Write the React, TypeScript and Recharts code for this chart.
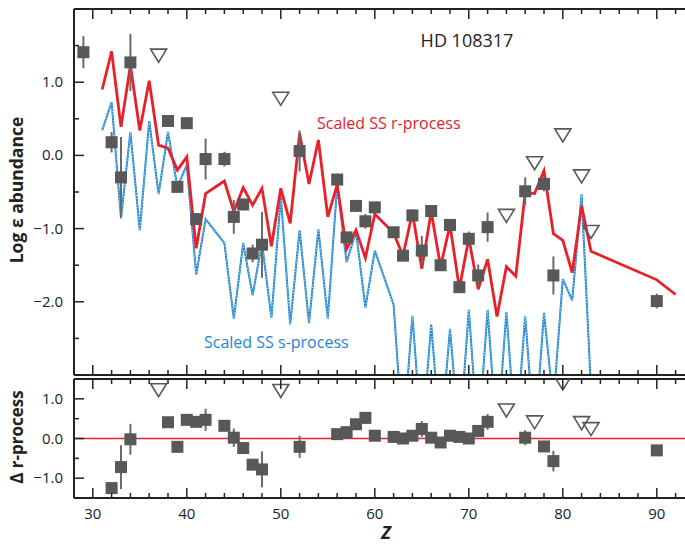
import {
  ComposedChart,
  ErrorBar,
  Line,
  ReferenceLine,
  Scatter,
  XAxis,
  YAxis,
} from "recharts";

const FONT = '"Open Sans", "Noto Sans", sans-serif';
const INK = "#222";
const RED = "#e8202a";
const BLUE = "#1f86cf";
const GREY = "#585858";

// scaled solar-system r-process pattern
const R_Z = [
  31, 32, 33, 34, 35, 36, 37, 38, 39, 40, 41, 42, 44, 45, 46, 47, 48, 49, 50, 51, 52, 53, 54, 55,
  56, 57, 58, 59, 60, 62, 63, 64, 65, 66, 67, 68, 69, 70, 71, 72, 73, 74, 75, 76, 77, 78, 79, 80,
  81, 82, 83, 90, 92,
];
const R_VAL = [
  0.9, 1.42, 0.39, 1.23, 0.34, 1.02, 0.14, 0.1, -0.2, -0.02, -1.27, -0.52, -0.35, -0.77, -0.44,
  -0.68, -0.45, -1.24, -0.45, -0.93, 0.3, -0.39, 0.21, -0.84, -0.4, -1.28, -1.02, -1.4, -0.8, -1.06,
  -1.37, -0.78, -1.55, -0.77, -1.52, -0.95, -1.82, -1.13, -1.83, -1.42, -2.2, -1.52, -1.65, -0.51,
  -0.52, -0.21, -1.07, -1.16, -1.6, -0.69, -1.31, -1.7, -1.9,
];

// scaled solar-system s-process pattern
const S_Z = [
  31, 32, 33, 34, 35, 36, 37, 38, 39, 40, 41, 42, 44, 45, 46, 47, 48, 49, 50, 51, 52, 53, 54, 55,
  56, 57, 58, 59, 60, 62, 63, 64, 65, 66, 67, 68, 69, 70, 71, 72, 73, 74, 75, 76, 77, 78, 79, 80,
  81, 82, 83,
];
const S_VAL = [
  0.34, 0.73, -0.86, 0.32, -1.02, 0.47, -0.53, 0.32, -0.43, -0.13, -1.63, -0.87, -1.2, -2.23, -1.2,
  -1.91, -1.2, -2.22, -0.56, -2.31, -1.02, -2.29, -1.01, -2.23, -0.4, -1.46, -1.04, -2.08, -1.3,
  -2.04, -3.9, -2.19, -3.9, -2.31, -3.9, -2.37, -3.9, -2.11, -3.9, -2.11, -3.9, -2.14, -3.9, -2.2,
  -3.9, -2.15, -3.4, -1.69, -1.98, -0.53, -3.2,
];

// detections with 1-sigma errors
const OBS_Z = [
  29, 32, 33, 34, 38, 39, 40, 41, 42, 44, 45, 46, 47, 48, 52, 56, 57, 58, 59, 60, 62, 63, 64, 65,
  66, 67, 68, 69, 70, 71, 72, 76, 78, 79, 90,
];
const OBS_VAL = [
  1.41, 0.18, -0.3, 1.27, 0.47, -0.43, 0.44, -0.87, -0.05, -0.05, -0.84, -0.67, -1.34, -1.22, 0.06,
  -0.33, -1.12, -0.69, -0.9, -0.71, -1.05, -1.37, -0.82, -1.3, -0.76, -1.5, -0.95, -1.8, -1.14,
  -1.64, -0.98, -0.49, -0.39, -1.64, -1.99,
];
const OBS_ERR = [
  0.22, 0.14, 0.55, 0.39, 0.08, 0.08, 0.08, 0.08, 0.28, 0.1, 0.23, 0.08, 0.12, 0.45, 0.28, 0.08,
  0.05, 0.05, 0.1, 0.05, 0.05, 0.05, 0.08, 0.2, 0.06, 0.08, 0.05, 0.08, 0.1, 0.15, 0.2, 0.19, 0.1,
  0.26, 0.1,
];

// upper limits
const LIM_Z = [37, 50, 74, 77, 80, 82, 83];
const LIM_VAL = [1.37, 0.78, -0.82, -0.1, 0.28, -0.28, -1.04];

// residuals vs scaled r-process
const D_Z = [
  32, 33, 34, 38, 39, 40, 41, 42, 44, 45, 46, 47, 48, 52, 56, 57, 58, 59, 60, 62, 63, 64, 65, 66,
  67, 68, 69, 70, 71, 72, 76, 78, 79, 90,
];
const D_VAL = [
  -1.25, -0.72, -0.02, 0.41, -0.21, 0.47, 0.42, 0.47, 0.32, 0.02, -0.24, -0.66, -0.78, -0.21, 0.11,
  0.16, 0.36, 0.52, 0.07, 0.04, 0.0, 0.07, 0.24, 0.02, -0.1, 0.07, 0.04, 0.0, 0.19, 0.42, 0.02,
  -0.2, -0.57, -0.3,
];
const D_ERR = [
  0.1, 0.55, 0.39, 0.08, 0.08, 0.08, 0.08, 0.28, 0.1, 0.23, 0.08, 0.1, 0.45, 0.28, 0.08, 0.05, 0.05,
  0.1, 0.05, 0.05, 0.05, 0.08, 0.2, 0.06, 0.08, 0.05, 0.08, 0.1, 0.15, 0.2, 0.19, 0.1, 0.26, 0.1,
];
const DLIM_Z = [37, 50, 74, 77, 80, 82, 83];
const DLIM_VAL = [1.23, 1.21, 0.72, 0.42, 1.4, 0.4, 0.25];

const X_TICKS = [
  30, 32, 34, 36, 38, 40, 42, 44, 46, 48, 50, 52, 54, 56, 58, 60, 62, 64, 66, 68, 70, 72, 74, 76,
  78, 80, 82, 84, 86, 88, 90, 92,
];
const TOP_Y_TICKS = [-2.5, -2, -1.5, -1, -0.5, 0, 0.5, 1, 1.5];
const TOP_Y_LABELS = [-2, -1, 0, 1];
const BOT_Y_TICKS = [-1, -0.5, 0, 0.5, 1];
const BOT_Y_LABELS = [-1, 0, 1];

const pts = (zs: number[], vs: number[], es?: number[]) =>
  zs.map((z, i) => ({ z, v: vs[i], e: es ? es[i] : 0 }));

const rLine = pts(R_Z, R_VAL);
const sLine = pts(S_Z, S_VAL);
const obs = pts(OBS_Z, OBS_VAL, OBS_ERR);
const lims = pts(LIM_Z, LIM_VAL);
const delta = pts(D_Z, D_VAL, D_ERR);
const deltaLims = pts(DLIM_Z, DLIM_VAL);

const fmt = (v: number) => v.toFixed(1).replace("-", "\u2212");

const Square = (p: any) => <rect x={p.cx - 6} y={p.cy - 6} width={12} height={12} fill={GREY} />;
const Limit = (p: any) => (
  <path
    d={`M${p.cx - 8},${p.cy - 6} L${p.cx + 8},${p.cy - 6} L${p.cx},${p.cy + 7} Z`}
    fill="none"
    stroke={GREY}
    strokeWidth={1.6}
  />
);

// ticks point into the plot; labels only where asked
const xTick = (down: boolean, labels: boolean) => (p: any) => {
  const v = p.payload.value;
  const len = v % 10 === 0 ? 10 : 5;
  return (
    <g>
      <line x1={p.x} x2={p.x} y1={p.y} y2={down ? p.y + len : p.y - len} stroke={INK} strokeWidth={1.5} />
      {labels && v % 10 === 0 && (
        <text x={p.x} y={p.y + 21} textAnchor="middle" fontSize={15} fontFamily={FONT} fill={INK}>
          {v}
        </text>
      )}
    </g>
  );
};

const yTick = (labels: number[]) => (p: any) => {
  const v = p.payload.value;
  const len = Number.isInteger(v) ? 10 : 5;
  return (
    <g>
      <line x1={p.x} x2={p.x + len} y1={p.y} y2={p.y} stroke={INK} strokeWidth={1.5} />
      {labels.includes(v) && (
        <text x={p.x - 11} y={p.y + 5} textAnchor="end" fontSize={15} fontFamily={FONT} fill={INK}>
          {fmt(v)}
        </text>
      )}
    </g>
  );
};

const axisLine = { stroke: INK, strokeWidth: 2 };

function Axes({ topH, botH, yTicks, yLabels, domain, labels }: any) {
  return [
    <XAxis
      key="xb"
      dataKey="z"
      type="number"
      domain={[28, 93]}
      ticks={X_TICKS}
      interval={0}
      height={botH}
      tickSize={0}
      tickMargin={0}
      tickLine={false}
      axisLine={axisLine}
      tick={xTick(false, labels)}
      allowDataOverflow
    />,
    <XAxis
      key="xt"
      xAxisId="t"
      orientation="top"
      dataKey="z"
      type="number"
      domain={[28, 93]}
      ticks={X_TICKS}
      interval={0}
      height={topH}
      tickSize={0}
      tickMargin={0}
      tickLine={false}
      axisLine={axisLine}
      tick={xTick(true, false)}
      allowDataOverflow
    />,
    <YAxis
      key="y"
      dataKey="v"
      type="number"
      domain={domain}
      ticks={yTicks}
      interval={0}
      width={74}
      tickSize={0}
      tickMargin={0}
      tickLine={false}
      axisLine={axisLine}
      tick={yTick(yLabels)}
      allowDataOverflow
    />,
  ];
}

function TopPanel() {
  return (
    <ComposedChart width={685} height={376} margin={{ top: 0, right: 0, bottom: 0, left: 0 }}>
      {Axes({ topH: 9, botH: 1, yTicks: TOP_Y_TICKS, yLabels: TOP_Y_LABELS, domain: [-3, 2], labels: false })}
      <Line data={sLine} dataKey="v" stroke={BLUE} strokeWidth={2} dot={false} isAnimationActive={false} />
      <Line
        data={sLine}
        dataKey="v"
        stroke="#b5dcf5"
        strokeWidth={1}
        strokeDasharray="1.2 1.8"
        dot={false}
        isAnimationActive={false}
      />
      <Line data={rLine} dataKey="v" stroke={RED} strokeWidth={2.8} dot={false} isAnimationActive={false} />
      <Scatter data={obs} dataKey="v" shape={Square} isAnimationActive={false}>
        <ErrorBar dataKey="e" direction="y" width={0} stroke="#6a6a6a" strokeWidth={2} isAnimationActive={false} />
      </Scatter>
      <Scatter data={lims} dataKey="v" shape={Limit} isAnimationActive={false} />
    </ComposedChart>
  );
}

function BottomPanel() {
  return (
    <ComposedChart width={685} height={168} margin={{ top: 0, right: 0, bottom: 0, left: 0 }}>
      {Axes({ topH: 3, botH: 46, yTicks: BOT_Y_TICKS, yLabels: BOT_Y_LABELS, domain: [-1.5, 1.5], labels: true })}
      <ReferenceLine y={0} stroke={RED} strokeWidth={1.5} />
      <Scatter data={delta} dataKey="v" shape={Square} isAnimationActive={false}>
        <ErrorBar dataKey="e" direction="y" width={0} stroke="#6a6a6a" strokeWidth={2} isAnimationActive={false} />
      </Scatter>
      <Scatter data={deltaLims} dataKey="v" shape={Limit} isAnimationActive={false} />
    </ComposedChart>
  );
}

export default function App() {
  return (
    <div style={{ position: "absolute", left: 0, top: 0, width: 685, height: 544, background: "#fff", overflow: "hidden" }}>
      <div style={{ position: "absolute", left: 0, top: 0 }}>
        <TopPanel />
      </div>
      <div style={{ position: "absolute", left: 0, top: 376 }}>
        <BottomPanel />
      </div>
      <svg width={685} height={544} style={{ position: "absolute", left: 0, top: 0, pointerEvents: "none" }}>
        <text x={467} y={47} textAnchor="middle" fontSize={18} fontFamily={FONT} fill={INK}>
          HD 108317
        </text>
        <text x={317} y={129} fontSize={16} fontFamily={FONT} fill={RED}>
          Scaled SS r-process
        </text>
        <text x={204} y={348} fontSize={16} fontFamily={FONT} fill={BLUE}>
          Scaled SS s-process
        </text>
        <text
          transform="translate(23,190) rotate(-90)"
          textAnchor="middle"
          fontSize={17.5}
          fontWeight="bold"
          fontFamily={FONT}
          fill={INK}
        >
          Log ε abundance
        </text>
        <text
          transform="translate(23,437) rotate(-90)"
          textAnchor="middle"
          fontSize={17}
          fontWeight="bold"
          fontFamily={FONT}
          fill={INK}
        >
          Δ r-process
        </text>
        <text x={386} y={539} textAnchor="middle" fontSize={18} fontWeight="bold" fontStyle="italic" fontFamily={FONT} fill={INK}>
          Z
        </text>
      </svg>
    </div>
  );
}
